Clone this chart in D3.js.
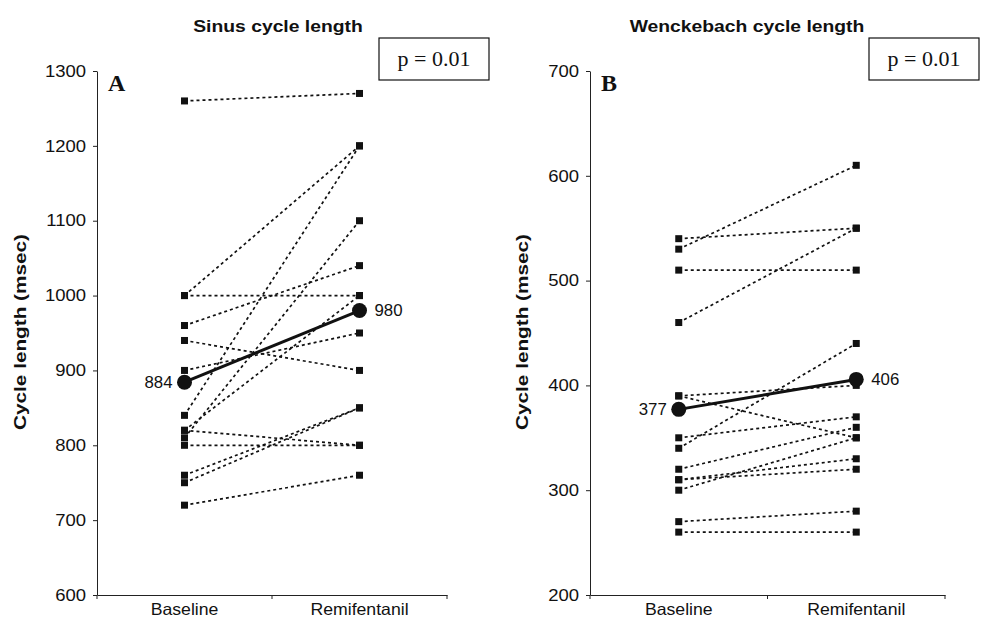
<!DOCTYPE html>
<html>
<head>
<meta charset="utf-8">
<script src="https://cdn.jsdelivr.net/npm/d3@7"></script>
<style>
  body { margin: 0; background: #fff; }
  svg text { font-family: "Liberation Sans", Arial, sans-serif; fill: #111; }
</style>
</head>
<body>
<script>
const width = 981
const height = 622

const groups = ['Baseline', 'Remifentanil']

// Sinus cycle length (msec), one entry per patient
const sinusBaseline = [1260, 1000, 1000, 960, 940, 900, 840, 820, 810, 820, 800, 760, 750, 720]
const sinusRemi     = [1270, 1000, 1200, 1040, 900, 950, 1200, 1000, 1100, 800, 800, 850, 850, 760]
const sinusTicks = [600, 700, 800, 900, 1000, 1100, 1200, 1300]

// Wenckebach cycle length (msec)
const wenckBaseline = [540, 530, 510, 460, 390, 390, 350, 340, 320, 310, 310, 300, 270, 260]
const wenckRemi     = [550, 610, 510, 550, 400, 350, 370, 440, 360, 330, 320, 350, 280, 260]
const wenckTicks = [200, 300, 400, 500, 600, 700]

const svg = d3.select('body').append('svg')
    .attr('width', width)
    .attr('height', height)

// the original lettering is a bit wider than Arial, so stretch it sideways
function stretch(sel, k) {
    sel.each(function() {
        const len = this.getComputedTextLength()
        d3.select(this).attr('textLength', len * k).attr('lengthAdjust', 'spacingAndGlyphs')
    })
}

function drawPanel(opt) {
    const top = 71, bottom = 595
    const x = d3.scaleBand().domain(groups).range([opt.left, opt.right])
    const y = d3.scaleLinear().domain(d3.extent(opt.ticks)).range([bottom, top])
    const cx = d => x(d) + x.bandwidth() / 2

    // y axis
    const yAxis = svg.append('g')
        .attr('transform', `translate(${opt.left},0)`)
        .call(d3.axisLeft(y).tickValues(opt.ticks).tickFormat(d3.format('d'))
            .tickSize(4).tickSizeOuter(0).tickPadding(7))
    yAxis.selectAll('path, line').attr('stroke', '#222')
    yAxis.selectAll('text').attr('font-size', 16.5).attr('font-family', null).call(stretch, 1.12)

    // x axis
    const xAxis = svg.append('g')
        .attr('transform', `translate(0,${bottom})`)
        .call(d3.axisBottom(x).tickSize(0).tickSizeOuter(0).tickPadding(8))
    xAxis.select('.domain').attr('stroke', '#222')
    xAxis.selectAll('text').attr('font-size', 16.5).attr('font-family', null).call(stretch, 1.07)
    xAxis.selectAll('.bound')
        .data([opt.left, opt.left + x.step(), opt.right])
        .enter().append('line')
        .attr('x1', d => d).attr('x2', d => d)
        .attr('y1', 0).attr('y2', 4)
        .attr('stroke', '#222')

    // one dotted line per patient
    const pairs = opt.base.map((b, i) => ({b: b, r: opt.remi[i]}))
    svg.append('g').selectAll('line')
        .data(pairs)
        .enter().append('line')
        .attr('x1', cx(groups[0])).attr('y1', d => y(d.b))
        .attr('x2', cx(groups[1])).attr('y2', d => y(d.r))
        .attr('stroke', '#111')
        .attr('stroke-width', 1.7)
        .attr('stroke-dasharray', '3,3')

    const pts = []
    pairs.forEach(d => { pts.push([groups[0], d.b]); pts.push([groups[1], d.r]) })
    svg.append('g').selectAll('rect')
        .data(pts)
        .enter().append('rect')
        .attr('x', d => cx(d[0]) - 3.5)
        .attr('y', d => y(d[1]) - 3.5)
        .attr('width', 7).attr('height', 7)
        .attr('fill', '#111')

    // group means
    const m0 = d3.mean(opt.base), m1 = d3.mean(opt.remi)
    svg.append('line')
        .attr('x1', cx(groups[0])).attr('y1', y(m0))
        .attr('x2', cx(groups[1])).attr('y2', y(m1))
        .attr('stroke', '#111').attr('stroke-width', 3)
    svg.selectAll(null)
        .data([[groups[0], m0], [groups[1], m1]])
        .enter().append('circle')
        .attr('cx', d => cx(d[0])).attr('cy', d => y(d[1]))
        .attr('r', 7.5).attr('fill', '#111')
    svg.append('text')
        .attr('x', cx(groups[0]) - 12).attr('y', y(m0) + 5.5)
        .attr('text-anchor', 'end').attr('font-size', 16)
        .text(Math.round(m0)).call(stretch, 1.05)
    svg.append('text')
        .attr('x', cx(groups[1]) + 15).attr('y', y(m1) + 5.5)
        .attr('font-size', 16)
        .text(Math.round(m1)).call(stretch, 1.05)

    // titles, panel letter, p value
    svg.append('text')
        .attr('x', opt.titleX).attr('y', 32)
        .attr('text-anchor', 'middle')
        .attr('font-size', 16.5).attr('font-weight', 'bold')
        .text(opt.title).call(stretch, 1.17)
    svg.append('text')
        .attr('transform', `translate(${opt.labelX},332) rotate(-90)`)
        .attr('text-anchor', 'middle')
        .attr('font-size', 17).attr('font-weight', 'bold')
        .text('Cycle length (msec)').call(stretch, 1.22)
    svg.append('text')
        .attr('x', opt.left + 11).attr('y', 91)
        .style('font-family', '"Liberation Serif", "Times New Roman", serif')
        .attr('font-size', 24).attr('font-weight', 'bold')
        .text(opt.letter)
    svg.append('rect')
        .attr('x', opt.boxX).attr('y', 38)
        .attr('width', 110).attr('height', 42)
        .attr('fill', 'none').attr('stroke', '#111').attr('stroke-width', 1.2)
    svg.append('text')
        .attr('x', opt.boxX + 55).attr('y', 66)
        .attr('text-anchor', 'middle')
        .style('font-family', '"Liberation Serif", "Times New Roman", serif')
        .attr('font-size', 22)
        .text('p = 0.01')
}

drawPanel({left: 97, right: 447, ticks: sinusTicks, base: sinusBaseline, remi: sinusRemi,
    title: 'Sinus cycle length', titleX: 278, labelX: 26, letter: 'A', boxX: 379})
drawPanel({left: 590, right: 945, ticks: wenckTicks, base: wenckBaseline, remi: wenckRemi,
    title: 'Wenckebach cycle length', titleX: 747, labelX: 528, letter: 'B', boxX: 869})
</script>
</body>
</html>
